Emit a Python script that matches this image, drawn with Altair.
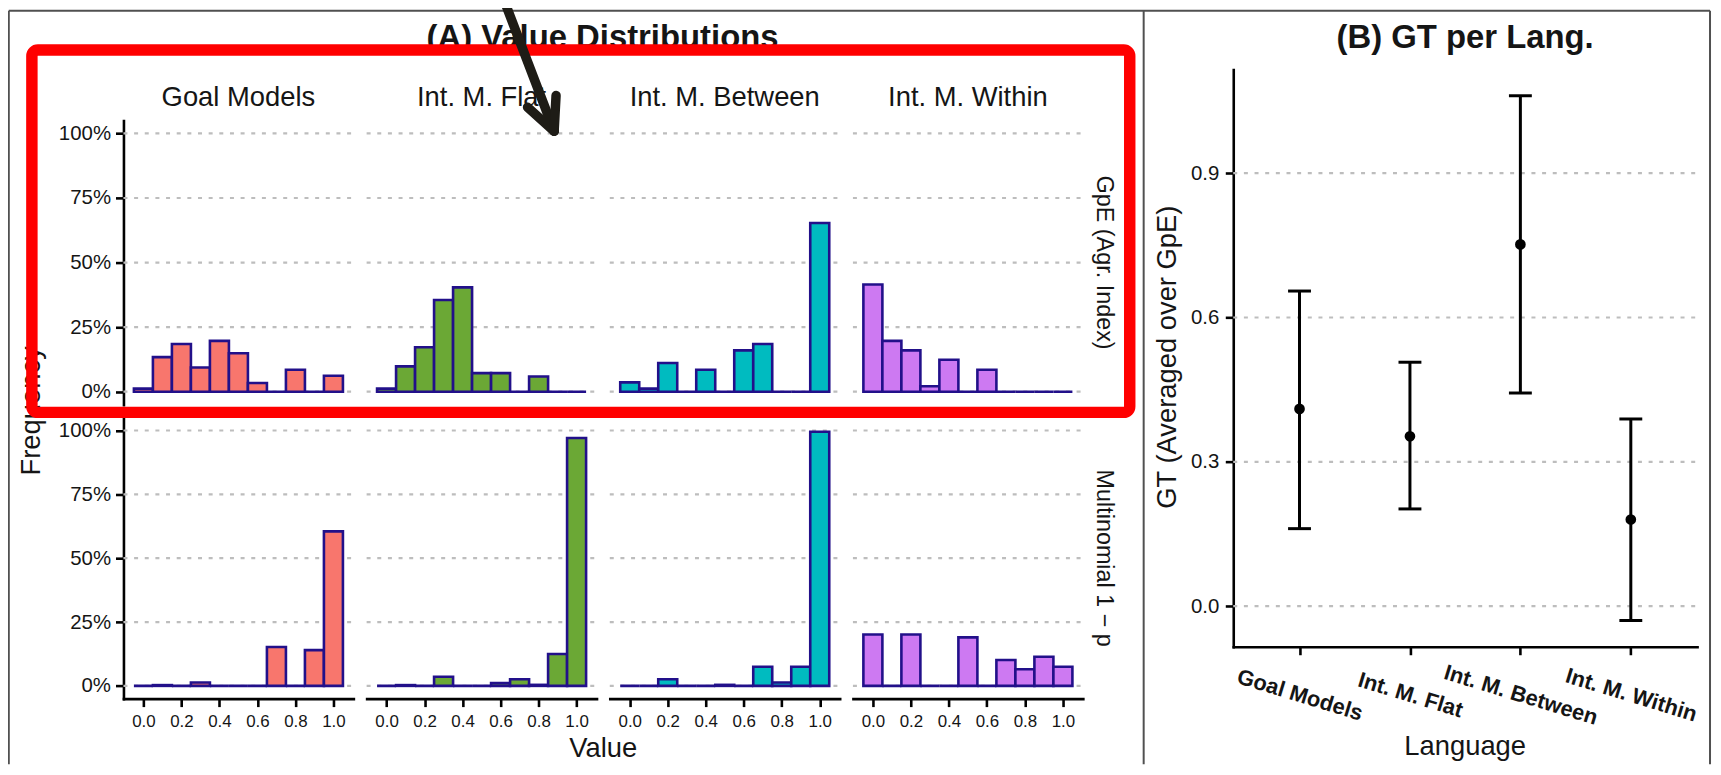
import math
import altair as alt
import pandas as pd

# ---------------- data ----------------
BINS = [0.0, 0.1, 0.2, 0.3, 0.4, 0.5, 0.6, 0.7, 0.8, 0.9, 1.0]
LANGS = ["Goal Models", "Int. M. Flat", "Int. M. Between", "Int. M. Within"]
METRICS = ["GpE (Agr. Index)", "Multinomial 1 \u2212 p"]

GPE_GOAL = [0.012, 0.134, 0.185, 0.094, 0.197, 0.149, 0.034, 0.0, 0.085, 0.0, 0.062]
GPE_FLAT = [0.012, 0.098, 0.172, 0.355, 0.404, 0.072, 0.072, 0.0, 0.059, 0.0, 0.0]
GPE_BETWEEN = [0.036, 0.012, 0.111, 0.0, 0.085, 0.0, 0.160, 0.185, 0.0, 0.0, 0.653]
GPE_WITHIN = [0.415, 0.197, 0.160, 0.021, 0.124, 0.0, 0.085, 0.0, 0.0, 0.0, 0.0]

MULTI_GOAL = [0.0, 0.003, 0.0, 0.013, 0.0, 0.0, 0.0, 0.152, 0.0, 0.140, 0.605]
MULTI_FLAT = [0.0, 0.003, 0.0, 0.036, 0.0, 0.0, 0.011, 0.026, 0.004, 0.125, 0.971]
MULTI_BETWEEN = [0.0, 0.0, 0.026, 0.0, 0.0, 0.004, 0.0, 0.075, 0.013, 0.075, 0.995]
MULTI_WITHIN = [0.201, 0.0, 0.201, 0.0, 0.0, 0.190, 0.0, 0.101, 0.065, 0.114, 0.075]

GT_MEAN = [0.410, 0.353, 0.752, 0.180]
GT_LOW = [0.161, 0.202, 0.443, -0.030]
GT_HIGH = [0.655, 0.507, 1.061, 0.389]

Y_TICKS_A = [0.0, 0.25, 0.5, 0.75, 1.0]
X_TICKS_A = [0.0, 0.2, 0.4, 0.6, 0.8, 1.0]
Y_TICKS_B = [0.0, 0.3, 0.6, 0.9]

SERIES = [[GPE_GOAL, GPE_FLAT, GPE_BETWEEN, GPE_WITHIN],
          [MULTI_GOAL, MULTI_FLAT, MULTI_BETWEEN, MULTI_WITHIN]]

# ---------------- layout / style ----------------
W, H = 1713, 758
OFF = 8.0


def px(v):
    return v - OFF


FONT = "Liberation Sans"
INK = "#151515"
OUTLINE = "#22108A"
FILLS = ["#F8766D", "#6BA835", "#00BBC0", "#CD79F2"]
GRID_COLOR = "#BDBDBD"
GRID_DASH = [4, 6.7]

COL_LEFT = [124.0 + 244.3 * c for c in range(4)]
COL_W = 231.0
ROW_SPAN = [(119.3, 404.7), (417.9, 700.1)]
X_DOM = [-0.105, 1.105]
Y_DOM = [-0.05, 1.05]
ONE = alt.Data(values=[{"k": 0}])


def axis_style(**kw):
    base = dict(title=None, grid=False, domainColor="black", domainWidth=2.6,
                domainCap="square", tickColor="black", tickWidth=2.6, tickSize=8,
                labelColor=INK, labelFont=FONT, labelOverlap=False, labelFlush=False)
    base.update(kw)
    return alt.Axis(**base)


def rule(x1, y1, x2, y2, color, width, cap="butt"):
    return alt.Chart(ONE).mark_rule(color=color, strokeWidth=width, strokeCap=cap).encode(
        x=alt.value(x1), y=alt.value(y1), x2=alt.value(x2), y2=alt.value(y2))


def label(text, x, y, size, angle=0, weight="normal"):
    return alt.Chart(ONE).mark_text(
        text=text, font=FONT, fontSize=size, fontWeight=weight, angle=angle,
        align="center", baseline="alphabetic", color=INK).encode(
        x=alt.value(x), y=alt.value(y))


# ---------------- frame ----------------
FRAME = "#505050"
layers = [
    rule(0.8, 1.0, 1710.0, 1.0, FRAME, 2),
    rule(0.8, 1.0, 0.8, H, FRAME, 2),
    rule(1710.0, 1.0, 1710.0, H, FRAME, 2),
    rule(1141.0, 1.0, 1141.0, H, FRAME, 2),
]

# ---------------- panel A: histograms ----------------
for r in range(2):
    for c in range(4):
        x0 = px(COL_LEFT[c])
        x1 = x0 + COL_W
        yt, yb = px(ROW_SPAN[r][0]), px(ROW_SPAN[r][1])
        xs = alt.Scale(domain=X_DOM, range=[x0, x1], nice=False, zero=False)
        ys = alt.Scale(domain=Y_DOM, range=[yb, yt], nice=False, zero=False)
        yax = (axis_style(orient="left", offset=-x0, values=Y_TICKS_A, format=".0%",
                          labelFontSize=20.5, labelPadding=5) if c == 0 else None)
        xax = (axis_style(orient="bottom", offset=yb - H, values=X_TICKS_A, format=".1f",
                          labelFontSize=17, labelPadding=7) if r == 1 else None)
        df = pd.DataFrame({"bin": BINS, "freq": SERIES[r][c]})
        df["lo"] = df["bin"] - 0.05
        df["hi"] = df["bin"] + 0.05
        df["base"] = 0.0
        grid = alt.Chart(pd.DataFrame({"t": Y_TICKS_A})).mark_rule(
            color=GRID_COLOR, strokeWidth=2.2, strokeDash=GRID_DASH).encode(
            y=alt.Y("t:Q", scale=ys, axis=yax),
            x=alt.XDatum(X_DOM[0], type="quantitative", scale=xs, axis=xax),
            x2=alt.X2Datum(X_DOM[1]))
        bars = alt.Chart(df).mark_rect(
            fill=FILLS[c], stroke=OUTLINE, strokeWidth=2.6, opacity=1).encode(
            x=alt.X("lo:Q", scale=xs, axis=xax), x2="hi:Q",
            y=alt.Y("base:Q", scale=ys, axis=yax), y2="freq:Q")
        layers.append(alt.layer(grid, bars))

# ---------------- panel B: GT per language ----------------
bx0, bx1 = px(1239.0), px(1705.0)
byt, byb = px(68.0), px(648.0)
xsB = alt.Scale(type="point", domain=LANGS, range=[bx0, bx1], padding=0.6)
ysB = alt.Scale(domain=[-0.0846, 1.1156], range=[byb, byt], nice=False, zero=False)
xaxB = axis_style(orient="bottom", offset=byb - H, labelAngle=17, labelAlign="center",
                  labelBaseline="middle", labelPadding=40, labelFontSize=22,
                  labelFontWeight="bold", labelLimit=400)
yaxB = axis_style(orient="left", offset=-bx0, values=Y_TICKS_B, format=".1f",
                  labelFontSize=20.5, labelPadding=6.5)
dfB = pd.DataFrame({"lang": LANGS, "mean": GT_MEAN, "low": GT_LOW, "high": GT_HIGH})
enc_x = alt.X("lang:N", scale=xsB, axis=xaxB, sort=LANGS)

gridB = alt.Chart(pd.DataFrame({"t": Y_TICKS_B})).mark_rule(
    color=GRID_COLOR, strokeWidth=2.2, strokeDash=GRID_DASH).encode(
    y=alt.Y("t:Q", scale=ysB, axis=yaxB), x=alt.value(bx0), x2=alt.value(bx1))
err = alt.Chart(dfB).mark_rule(color="black", strokeWidth=3).encode(
    x=enc_x, y=alt.Y("low:Q", scale=ysB, axis=yaxB), y2="high:Q")
cap_lo = alt.Chart(dfB).mark_tick(color="black", orient="horizontal", size=23,
                                  thickness=3, opacity=1).encode(
    x=enc_x, y=alt.Y("low:Q", scale=ysB, axis=yaxB))
cap_hi = alt.Chart(dfB).mark_tick(color="black", orient="horizontal", size=23,
                                  thickness=3, opacity=1).encode(
    x=enc_x, y=alt.Y("high:Q", scale=ysB, axis=yaxB))
pts = alt.Chart(dfB).mark_circle(color="black", size=115, opacity=1).encode(
    x=enc_x, y=alt.Y("mean:Q", scale=ysB, axis=yaxB))
layers.append(alt.layer(gridB, err, cap_lo, cap_hi, pts))

# ---------------- texts ----------------
layers.append(label("(A) Value Distributions", px(605.3), px(46.5), 33, weight="bold"))
layers.append(label("(B) GT per Lang.", px(1472.0), px(46.5), 33, weight="bold"))
for c, name in enumerate(LANGS):
    layers.append(label(name, px(COL_LEFT[c] + COL_W / 2), px(105.0), 27.5))
for r, name in enumerate(METRICS):
    layers.append(label(name, px(1102.5), px(sum(ROW_SPAN[r]) / 2), 23.5, angle=90))
layers.append(label("Frequency", px(40.5), px(411.0), 27.5, angle=270))
layers.append(label("Value", px(606.0), px(759.0), 27.5))
layers.append(label("GT (Averaged over GpE)", px(1181.5), px(357.0), 27.5, angle=270))
layers.append(label("Language", px(1472.0), px(757.0), 27.5))

# ---------------- annotations: red box and arrow ----------------
layers.append(alt.Chart(ONE).mark_rect(
    filled=False, color="#FF0000", strokeWidth=11.5, cornerRadius=6).encode(
    x=alt.value(px(32.0)), x2=alt.value(px(1135.0)),
    y=alt.value(px(48.5)), y2=alt.value(px(412.5))))

ARROW = "#1E1C16"
tip = (px(556.7), px(130.0))
dx, dy = 49.7, 130.0
n = math.hypot(dx, dy)
ux, uy = dx / n, dy / n
start = (tip[0] - ux * 170, tip[1] - uy * 170)
layers.append(rule(start[0], start[1], tip[0], tip[1], ARROW, 9.5, cap="round"))
for ang, length in ((-27.0, 36.0), (24.0, 36.0)):
    a = math.radians(ang)
    bx, by = -ux, -uy
    rx = bx * math.cos(a) - by * math.sin(a)
    ry = bx * math.sin(a) + by * math.cos(a)
    layers.append(rule(tip[0], tip[1], tip[0] + rx * length, tip[1] + ry * length,
                       ARROW, 9.5, cap="round"))

chart = alt.layer(*layers).resolve_scale(
    x="independent", y="independent").resolve_axis(
    x="independent", y="independent").properties(
    width=W, height=H, padding=0,
    autosize=alt.AutoSizeParams(type="none")).configure(font=FONT).configure_view(
    strokeWidth=0)

chart.save("out.html", embed_options={"renderer": "svg", "actions": False})
